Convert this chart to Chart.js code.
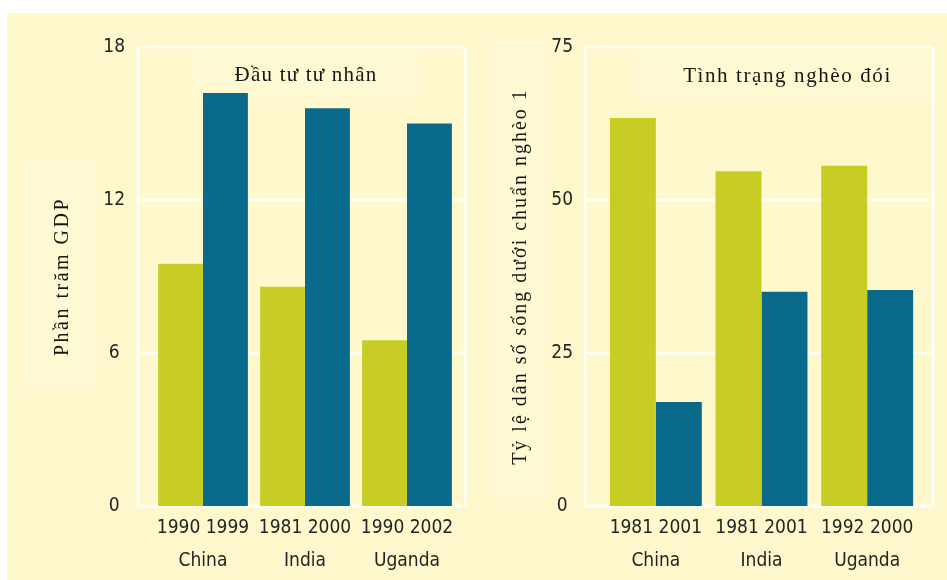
<!DOCTYPE html>
<html>
<head>
<meta charset="utf-8">
<script src="https://cdn.jsdelivr.net/npm/chart.js@4"></script>
<style>
  html, body { margin: 0; padding: 0; background: #ffffff; width: 947px; height: 580px; overflow: hidden; }
  #panel { position: absolute; left: 7px; top: 13px; width: 940px; height: 567px; background: #FEF8CC; }
  canvas { position: absolute; top: 0; }
</style>
</head>
<body>
<div id="panel"></div>
<canvas id="invest" width="473" height="580" style="left:0"></canvas>
<canvas id="poverty" width="474" height="580" style="left:473px"></canvas>
<script>
// Countries compared in both panels
const countries = ['China', 'India', 'Uganda'];

// Private investment, % of GDP
const investYears = [['1990', '1999'], ['1981', '2000'], ['1990', '2002']];
const investEarly = [9.5, 8.6, 6.5];
const investLate = [16.2, 15.6, 15.0];
const investTicks = [0, 6, 12, 18];

// Share of population below the poverty line
const povertyYears = [['1981', '2001'], ['1981', '2001'], ['1992', '2000']];
const povertyEarly = [63.4, 54.7, 55.6];
const povertyLate = [17.0, 35.0, 35.3];
const povertyTicks = [0, 25, 50, 75];

const GREEN = '#C8CD26';
const BLUE = '#0A6A8B';
const TICK_FONT = { family: '"DejaVu Sans Condensed", "Liberation Sans", sans-serif', size: 19 };
const SERIF = '"Liberation Serif", "DejaVu Serif", serif';

// Frame, white grid lines, soft label boxes and the serif titles
const decor = {
  id: 'decor',
  beforeDatasetsDraw(chart, args, o) {
    const { ctx, chartArea: a, scales: { y } } = chart;
    ctx.save();
    ctx.fillStyle = 'rgba(255,255,255,0.14)';
    for (const b of o.boxes) ctx.fillRect(a.left + b[0], b[1], b[2], b[3]);
    ctx.strokeStyle = 'rgba(255,255,255,0.8)';
    ctx.lineWidth = 3;
    const x0 = a.left - o.frameLeft, x1 = a.right + o.frameRight;
    const yTop = y.getPixelForValue(y.max), yBot = y.getPixelForValue(y.min);
    ctx.beginPath();
    for (const t of y.ticks) {
      const py = y.getPixelForValue(t.value);
      ctx.moveTo(x0, py); ctx.lineTo(x1, py);
    }
    ctx.moveTo(x0, yTop); ctx.lineTo(x0, yBot);
    ctx.moveTo(x1, yTop); ctx.lineTo(x1, yBot);
    ctx.stroke();
    ctx.restore();
  },
  afterDraw(chart, args, o) {
    const { ctx, chartArea: a } = chart;
    ctx.save();
    ctx.fillStyle = '#161616';
    ctx.textAlign = 'center';
    ctx.textBaseline = 'middle';
    ctx.font = '21px ' + SERIF;
    ctx.letterSpacing = o.titleSpacing;
    ctx.fillText(o.title, (a.left + a.right) / 2 + o.titleDx, o.titleY);
    ctx.font = '20px ' + SERIF;
    ctx.letterSpacing = o.axisSpacing;
    ctx.translate(a.left + o.axisTitleDx, (a.top + a.bottom) / 2);
    ctx.rotate(-Math.PI / 2);
    ctx.fillText(o.axisTitle, 0, 0);
    ctx.restore();
  }
};

function makeChart(id, years, early, late, ticks, opts) {
  const labels = countries.map((c, i) => [years[i].join(' '), c]);
  const yMax = ticks[ticks.length - 1];
  return new Chart(document.getElementById(id), {
    type: 'bar',
    data: {
      labels,
      datasets: [
        { data: early, backgroundColor: GREEN, borderWidth: 0, barPercentage: 1, categoryPercentage: opts.catPct },
        { data: late, backgroundColor: BLUE, borderWidth: 0, barPercentage: 1, categoryPercentage: opts.catPct }
      ]
    },
    options: {
      responsive: false,
      devicePixelRatio: 1,
      animation: false,
      layout: { padding: { left: 20, right: opts.padRight, top: 47, bottom: 0 } },
      plugins: {
        legend: { display: false },
        tooltip: { enabled: false },
        decor: opts.decor
      },
      scales: {
        x: {
          grid: { display: false, drawTicks: false },
          border: { display: false },
          ticks: { font: Object.assign({ lineHeight: '33px' }, TICK_FONT), color: '#242424', padding: 6, maxRotation: 0, autoSkip: false },
          afterFit: s => { s.height = 74; }
        },
        y: {
          min: 0,
          max: yMax,
          afterBuildTicks: s => { s.ticks = ticks.map(v => ({ value: v })); },
          grid: { display: false, drawTicks: false },
          border: { display: false },
          ticks: { font: TICK_FONT, color: '#242424', padding: opts.tickPad, crossAlign: 'center' },
          afterFit: s => { s.width = opts.axisWidth; }
        }
      }
    },
    plugins: [decor]
  });
}

makeChart('invest', investYears, investEarly, investLate, investTicks, {
  catPct: 0.88, padRight: 15, axisWidth: 132, tickPad: 27,
  decor: {
    title: 'Đầu tư tư nhân', titleDx: 1, titleY: 75, titleSpacing: '1.2px',
    axisTitle: 'Phần trăm GDP', axisTitleDx: -89, axisSpacing: '2.5px',
    frameLeft: 14, frameRight: 7,
    boxes: [[38, 50, 232, 50], [-129, 160, 74, 230]]
  }
});

makeChart('poverty', povertyYears, povertyEarly, povertyLate, povertyTicks, {
  catPct: 0.87, padRight: 27, axisWidth: 110, tickPad: 30,
  decor: {
    title: 'Tình trạng nghèo đói', titleDx: 26, titleY: 76, titleSpacing: '1.6px',
    axisTitle: 'Tỷ lệ dân số sống dưới chuẩn nghèo 1', axisTitleDx: -82, axisSpacing: '2px',
    frameLeft: 18, frameRight: 13,
    boxes: [[30, 52, 300, 50], [-113, 40, 60, 460]]
  }
});
</script>
</body>
</html>
